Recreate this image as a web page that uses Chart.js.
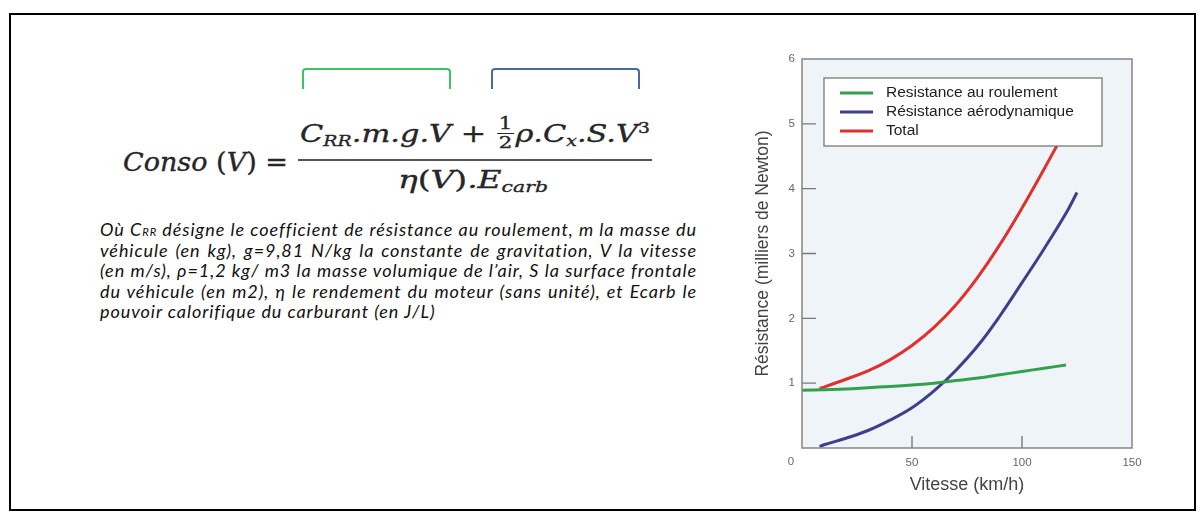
<!DOCTYPE html>
<html>
<head>
<meta charset="utf-8">
<script src="https://cdn.jsdelivr.net/npm/chart.js@4.4.1/dist/chart.umd.min.js"></script>
<style>
  html, body { margin:0; padding:0; background:#fff; }
  body { width:1203px; height:521px; position:relative; overflow:hidden; }
  #frame { position:absolute; left:9px; top:13px; width:1183px; height:494px; border:2px solid #000; }
  .abs { position:absolute; white-space:nowrap; }
  .math { font-family:"DejaVu Serif", serif; font-style:italic; color:#262626; line-height:1; -webkit-text-stroke:0.35px #262626; }
  .up { font-style:normal; }
  .sub { font-size:0.62em; position:relative; top:0.28em; }
  .sup { font-size:0.62em; position:relative; top:-0.55em; }
  .half { display:inline-block; vertical-align:middle; text-align:center; font-style:normal; font-size:0.7em; line-height:1.0; margin:0 0.06em; position:relative; top:-0.12em; }
  .half span { display:block; }
  .half .num { border-bottom:1.5px solid #262626; padding:0 0.08em 0.04em; }
  #fracline { position:absolute; left:298px; top:159px; width:354px; height:2px; background:#555; }
  .bracket { position:absolute; top:68px; height:19px; border:2.5px solid; border-bottom:none; border-radius:4px 4px 0 0; }
  #para { position:absolute; left:100px; top:219px; font-family:Lato, "Open Sans", sans-serif; font-style:italic; font-size:18px; line-height:20.5px; color:#111; }
  #para div { white-space:nowrap; height:20.5px; }
  .sc { font-size:0.62em; }
  #chart { position:absolute; left:0; top:0; }
</style>
</head>
<body>
<div id="frame"></div>

<div class="bracket" style="left:302px; width:145px; border-color:#3cc36a;"></div>
<div class="bracket" style="left:491px; width:145px; border-color:#4a6b9d;"></div>

<div id="conso" class="abs math" style="left:123px; top:149px; font-size:26px;">Conso <span class="up">(</span>V<span class="up">)</span> <span class="up">=</span></div>
<div id="numer" class="abs math" style="left:300px; top:117px; font-size:25px;">C<span class="sub">RR</span>.m.g.V <span class="up">+</span> <span class="half"><span class="num">1</span><span>2</span></span>ρ.C<span class="sub">x</span>.S.V<span class="sup up">3</span></div>
<div id="fracline"></div>
<div id="denom" class="abs math" style="left:398px; top:167px; font-size:25px;">η<span class="up">(</span>V<span class="up">)</span>.E<span class="sub">carb</span></div>

<div id="para">
  <div class="j">Où C<span class="sc">RR</span> désigne le coefficient de résistance au roulement, m la masse du</div>
  <div class="j">véhicule (en kg), g=9,81 N/kg la constante de gravitation, V la vitesse</div>
  <div class="j">(en m/s), ρ=1,2 kg/ m3 la masse volumique de l’air, S la surface frontale</div>
  <div class="j">du véhicule (en m2), η le rendement du moteur (sans unité), et Ecarb le</div>
  <div class="n">pouvoir calorifique du carburant (en J/L)</div>
</div>

<canvas id="chart" width="1203" height="521" style="width:1203px;height:521px;"></canvas>

<script>
// ---- data ----
const xTicks = [0, 50, 100, 150];
const yTicks = [0, 1, 2, 3, 4, 5, 6];
const seriesNames = ['Resistance au roulement', 'Résistance aérodynamique', 'Total'];
const seriesColors = ['#33a04e', '#3d3f8c', '#e0302e'];

const rollingSpeed = [0, 10, 20, 30, 40, 50, 60, 70, 80, 90, 100, 110, 120];
const rollingForce = [0.89, 0.90, 0.91, 0.93, 0.95, 0.97, 1.00, 1.04, 1.08, 1.13, 1.18, 1.23, 1.28];

const aeroSpeed = [8, 10, 20, 30, 40, 50, 60, 70, 80, 90, 100, 110, 120, 125];
const aeroForce = [0.02, 0.05, 0.15, 0.27, 0.43, 0.62, 0.88, 1.20, 1.58, 2.04, 2.55, 3.07, 3.62, 3.94];

const totalSpeed = [8, 10, 20, 30, 40, 50, 60, 70, 80, 90, 100, 110, 120];
const totalForce = [0.92, 0.94, 1.06, 1.19, 1.36, 1.58, 1.86, 2.21, 2.64, 3.14, 3.70, 4.30, 4.92];

// ---- text fitting helpers ----
function fitWidth(id, target) {
  const el = document.getElementById(id);
  el.style.display = 'inline-block';
  const w = el.getBoundingClientRect().width;
  el.style.transformOrigin = 'left top';
  el.style.transform = 'scaleX(' + (target / w) + ')';
}
function fitParagraph(target) {
  const para = document.getElementById('para');
  const lines = Array.from(para.children);
  lines.forEach(el => { el.style.display = 'inline-block'; });
  const just = lines.filter(el => el.classList.contains('j'));
  let ls = Math.min.apply(null, just.map(el => (target - el.getBoundingClientRect().width) / el.textContent.trim().length));
  para.style.letterSpacing = Math.max(0, ls * 0.97) + 'px';
  just.forEach(el => {
    const w = el.getBoundingClientRect().width;
    const spaces = (el.textContent.trim().match(/ /g) || []).length;
    if (w < target && spaces) el.style.wordSpacing = ((target - w) / spaces) + 'px';
    else if (w > target) { el.style.transformOrigin = 'left top'; el.style.transform = 'scaleX(' + (target / w) + ')'; }
  });
  lines.forEach(el => { el.style.display = 'block'; });
}
fitWidth('conso', 165);
fitWidth('numer', 350);
fitWidth('denom', 150);
fitParagraph(597);

// ---- chart ----
const toPts = (xs, ys) => xs.map((x, i) => ({x: x, y: ys[i]}));
const FONT = '"Liberation Sans", Arial, sans-serif';

const decor = {
  id: 'decor',
  beforeDatasetsDraw(chart) {
    const {ctx, chartArea: a} = chart;
    ctx.save();
    ctx.fillStyle = '#eef4f7';
    ctx.fillRect(a.left, a.top, a.right - a.left, a.bottom - a.top);
    ctx.restore();
  },
  afterDatasetsDraw(chart) {
    const {ctx, chartArea: a, scales: {x, y}} = chart;
    ctx.save();
    ctx.strokeStyle = '#8c8c8c';
    ctx.lineWidth = 1.6;
    ctx.strokeRect(a.left, a.top, a.right - a.left, a.bottom - a.top);
    ctx.strokeStyle = '#7a7a7a';
    ctx.lineWidth = 1.4;
    ctx.beginPath();
    yTicks.filter(v => v > y.min && v < y.max).forEach(v => {
      const py = y.getPixelForValue(v);
      ctx.moveTo(a.left, py); ctx.lineTo(a.left + 14, py);
    });
    xTicks.filter(v => v > x.min && v < x.max).forEach(v => {
      const px = x.getPixelForValue(v);
      ctx.moveTo(px, a.bottom); ctx.lineTo(px, a.bottom - 12);
    });
    ctx.stroke();
    ctx.fillStyle = '#666';
    ctx.font = '11.5px ' + FONT;
    ctx.textAlign = 'center';
    ctx.textBaseline = 'middle';
    ctx.fillText(String(xTicks[0]), x.getPixelForValue(xTicks[0]) - 11, a.bottom + 14);
    const bx = a.left + 22, by = a.top + 19, bw = 278, bh = 68;
    ctx.fillStyle = '#ffffff';
    ctx.fillRect(bx, by, bw, bh);
    ctx.strokeStyle = '#6e6e6e';
    ctx.lineWidth = 1.2;
    ctx.strokeRect(bx, by, bw, bh);
    ctx.font = '15.5px ' + FONT;
    ctx.textAlign = 'left';
    chart.data.datasets.forEach((ds, i) => {
      const ry = by + 15 + i * 19;
      ctx.strokeStyle = ds.borderColor;
      ctx.lineWidth = 3;
      ctx.beginPath();
      ctx.moveTo(bx + 16, ry); ctx.lineTo(bx + 49, ry);
      ctx.stroke();
      ctx.fillStyle = '#222';
      ctx.fillText(ds.label, bx + 62, ry);
    });
    ctx.restore();
  }
};

const lineDs = (label, color, pts) => ({
  label: label, data: pts, borderColor: color, backgroundColor: color,
  borderWidth: 3, pointRadius: 0, tension: 0.4, fill: false
});

new Chart(document.getElementById('chart'), {
  type: 'line',
  data: {
    datasets: [
      lineDs(seriesNames[0], seriesColors[0], toPts(rollingSpeed, rollingForce)),
      lineDs(seriesNames[1], seriesColors[1], toPts(aeroSpeed, aeroForce)),
      lineDs(seriesNames[2], seriesColors[2], toPts(totalSpeed, totalForce))
    ]
  },
  options: {
    responsive: false,
    animation: false,
    devicePixelRatio: 1,
    layout: { padding: { left: 740, top: 59, right: 71, bottom: 21 } },
    plugins: { legend: { display: false }, tooltip: { enabled: false } },
    scales: {
      x: {
        type: 'linear', min: xTicks[0], max: xTicks[xTicks.length - 1],
        afterBuildTicks: s => { s.ticks = xTicks.map(v => ({value: v})); },
        afterFit: s => { s.height = 52; },
        grid: { display: false, drawTicks: false },
        border: { display: false },
        ticks: { padding: 8, autoSkip: false, maxRotation: 0, color: '#666',
                 font: { size: 11.5, family: FONT },
                 callback: v => (v === xTicks[0] ? '' : String(v)) },
        title: { display: true, text: 'Vitesse (km/h)', color: '#444',
                 font: { size: 18, family: FONT }, padding: { top: 0, bottom: 4 } }
      },
      y: {
        type: 'linear', min: yTicks[0], max: yTicks[yTicks.length - 1],
        afterBuildTicks: s => { s.ticks = yTicks.map(v => ({value: v})); },
        afterFit: s => { s.width = 62; },
        grid: { display: false, drawTicks: false },
        border: { display: false },
        ticks: { padding: 7, autoSkip: false, color: '#666',
                 font: { size: 11.5, family: FONT },
                 callback: v => (v === yTicks[0] ? '' : String(v)) },
        title: { display: true, text: 'Résistance (milliers de Newton)', color: '#444',
                 font: { size: 17.5, family: FONT }, padding: { top: 12.5, bottom: 0 } }
      }
    }
  },
  plugins: [decor]
});
</script>
</body>
</html>
